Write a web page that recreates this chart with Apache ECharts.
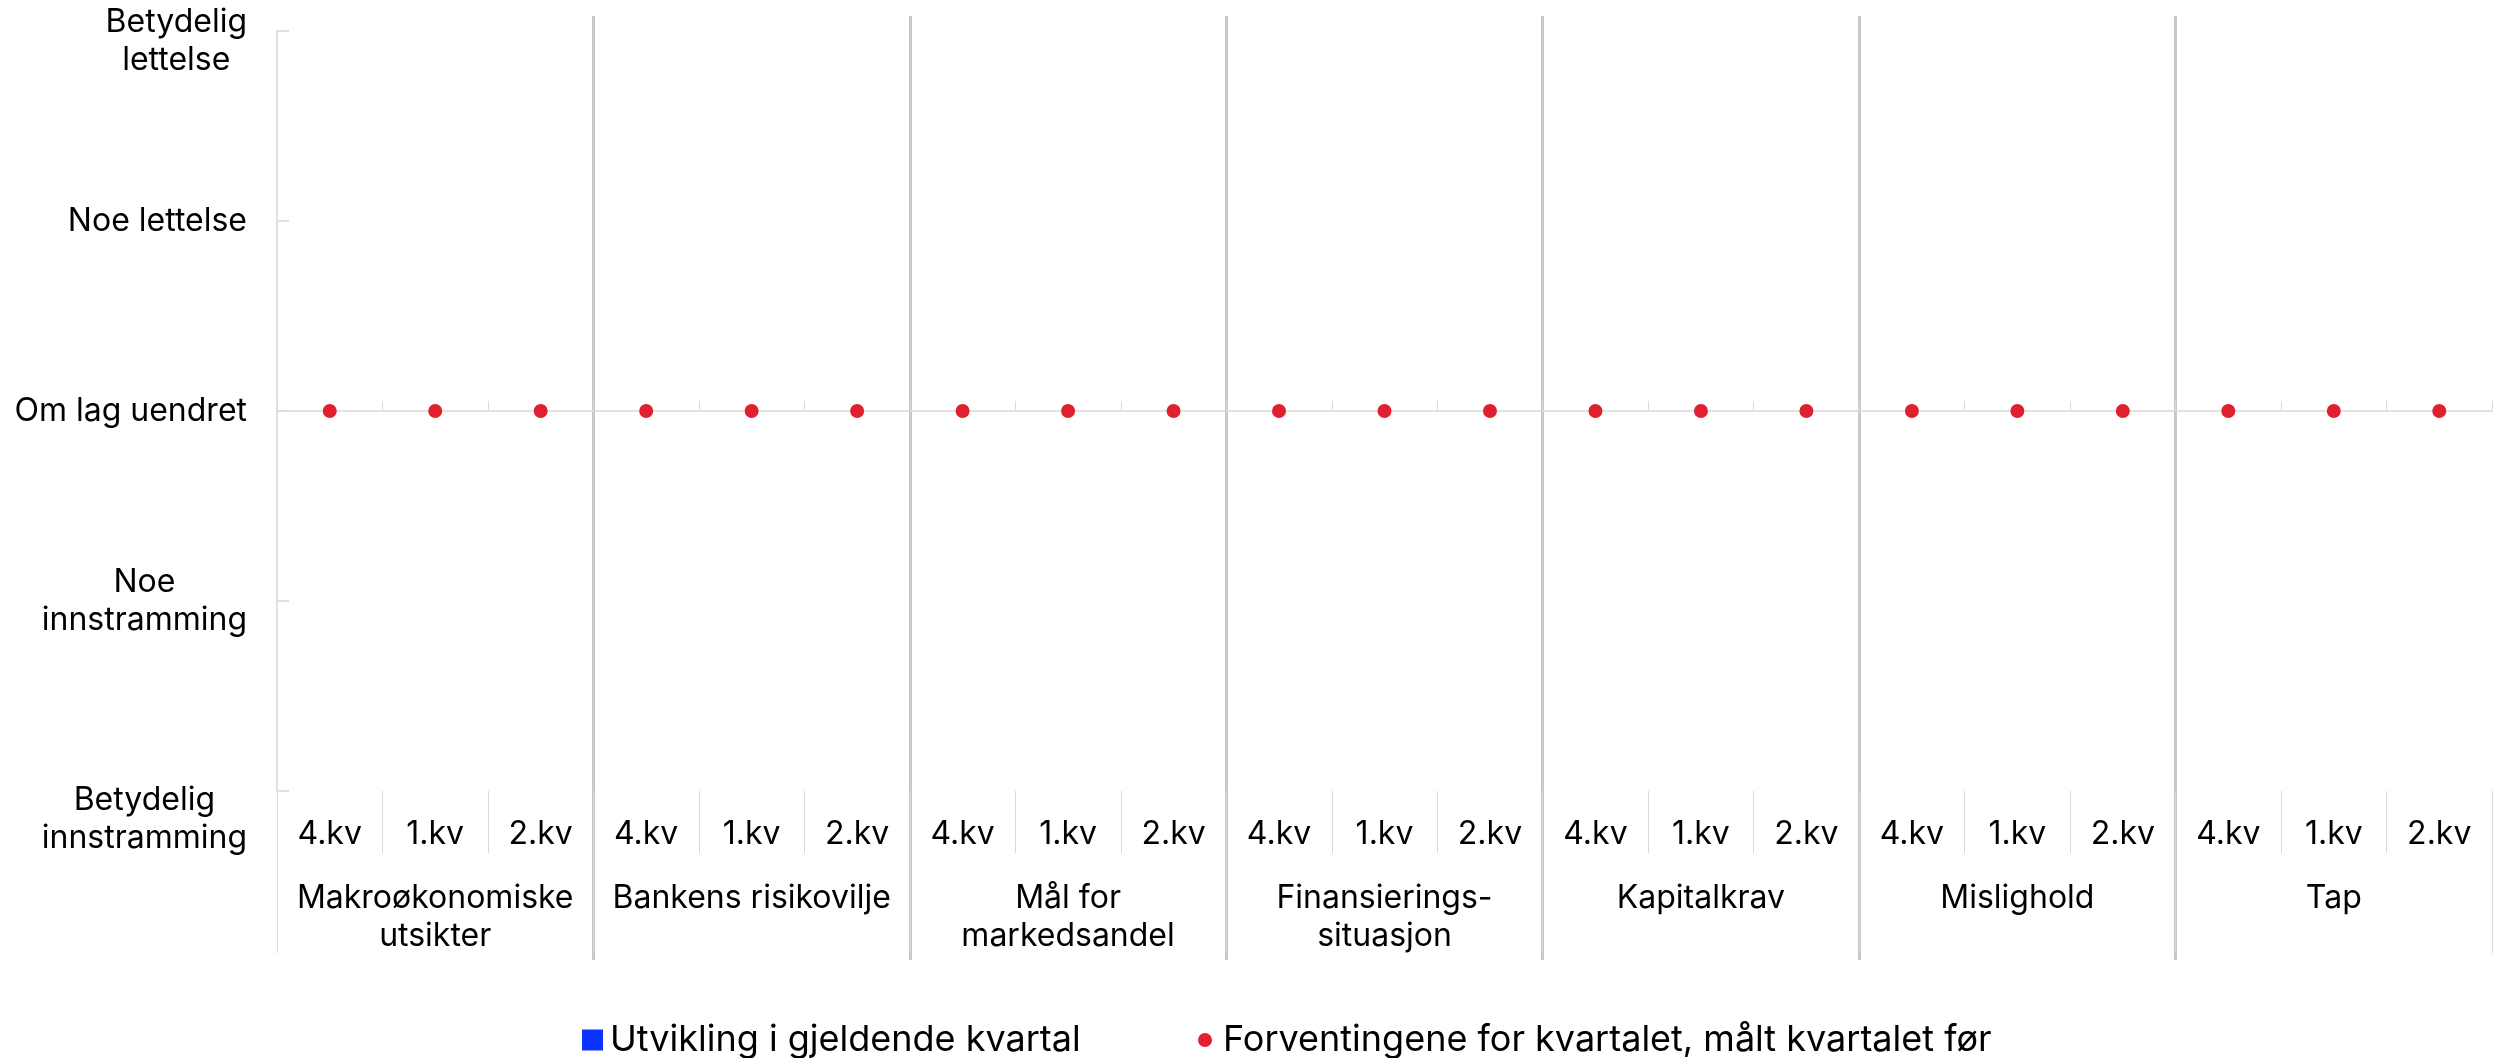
<!DOCTYPE html>
<html>
<head>
<meta charset="utf-8">
<script src="https://cdn.jsdelivr.net/npm/echarts@6.0.0/dist/echarts.min.js"></script>
<style>
  html, body { margin: 0; padding: 0; background: #fff; }
  #chart { width: 2504px; height: 1058px; }
</style>
</head>
<body>
<div id="chart"></div>
<script>
// kategorier
var groups = ['Makroøkonomiske\nutsikter', 'Bankens risikovilje', 'Mål for\nmarkedsandel', 'Finansierings-\nsituasjon', 'Kapitalkrav', 'Mislighold', 'Tap'];
var quarters = ['4.kv', '1.kv', '2.kv'];
// y-akse: verdi -> tekst
var yTicks = [-2, -1, 0, 1, 2];
var yLabels = ['Betydelig\ninnstramming', 'Noe\ninnstramming', 'Om lag uendret', 'Noe lettelse', 'Betydelig\nlettelse'];
// serier
var utvikling = [0, 0, 0, 0, 0, 0, 0, 0, 0, 0, 0, 0, 0, 0, 0, 0, 0, 0, 0, 0, 0];
var forventninger = [0, 0, 0, 0, 0, 0, 0, 0, 0, 0, 0, 0, 0, 0, 0, 0, 0, 0, 0, 0, 0];

var names = ['Utvikling i gjeldende kvartal', 'Forventingene for kvartalet, målt kvartalet før'];

var categories = [];
groups.forEach(function (g) {
  quarters.forEach(function (q) { categories.push(q); });
});

var FONT = 'Inter';
var GRID_LINE = '#d9d9d9';

var option = {
  animation: false,
  backgroundColor: '#fff',
  textStyle: { fontFamily: FONT, color: '#000' },
  grid: [
    { left: 277, right: 12, top: 31, bottom: 267, outerBoundsMode: 'none' },
    // bare for skillelinjene mellom gruppene
    { left: 277, right: 12, top: 16, bottom: 98, outerBoundsMode: 'none' }
  ],
  legend: [
    {
      data: [names[0]], icon: 'rect', itemWidth: 21, itemHeight: 21,
      left: 577, top: 1017,
      textStyle: { fontFamily: FONT, fontSize: 36, lineHeight: 36, color: '#000', padding: [0, 0, 0, 2] }
    },
    {
      data: [names[1]], icon: 'circle', itemWidth: 14, itemHeight: 14,
      left: 1193, top: 1017,
      textStyle: { fontFamily: FONT, fontSize: 36, lineHeight: 36, color: '#000', padding: [0, 0, 0, 6] }
    }
  ],
  xAxis: [
    {
      // nullinja med små streker opp
      type: 'category', gridIndex: 0, data: categories, position: 'bottom',
      axisLine: { show: true, onZero: true, lineStyle: { color: GRID_LINE, width: 1.5 } },
      axisTick: { show: true, inside: true, length: 10, lineStyle: { color: GRID_LINE, width: 1 } },
      axisLabel: { show: false },
      splitLine: { show: false }
    },
    {
      type: 'category', gridIndex: 0, data: categories, position: 'bottom',
      axisLine: { show: false, onZero: false },
      axisTick: { show: true, length: 62, lineStyle: { color: GRID_LINE, width: 1 } },
      axisLabel: {
        interval: 0, margin: 24, fontFamily: FONT, fontSize: 32, lineHeight: 38, color: '#000'
      },
      splitLine: { show: false }
    },
    {
      type: 'category', gridIndex: 0, data: groups, position: 'bottom',
      axisLine: { show: false, onZero: false },
      axisTick: { show: true, length: 162, lineStyle: { color: GRID_LINE, width: 1 } },
      axisLabel: {
        interval: 0, margin: 88, fontFamily: FONT, fontSize: 32, lineHeight: 38, color: '#000', verticalAlign: 'top'
      },
      splitLine: { show: false }
    },
    {
      type: 'category', gridIndex: 1, data: groups, position: 'bottom',
      axisLine: { show: false, onZero: false },
      axisTick: { show: false },
      axisLabel: { show: false },
      splitLine: { show: true, showMinLine: false, showMaxLine: false, lineStyle: { color: '#c8c8c8', width: 3 } }
    }
  ],
  yAxis: [
    {
      type: 'value', gridIndex: 0, min: -2, max: 2, interval: 1,
      axisLine: { show: true, lineStyle: { color: GRID_LINE, width: 1.5 } },
      axisTick: { show: true, inside: true, length: 12, lineStyle: { color: GRID_LINE, width: 1.5 } },
      splitLine: { show: false },
      axisLabel: {
        margin: 30, align: 'right', fontFamily: FONT, fontSize: 32, color: '#000',
        formatter: function (v) {
          var i = yTicks.indexOf(v);
          if (i < 0) return '';
          var lines = yLabels[i].split('\n').map(function (l) { return '{c|' + l + '}'; });
          // topp og bunn er skjøvet litt ned, som i originalen
          if (v === 2) lines.unshift('{sp1| }');
          if (v === -2) lines.unshift('{sp2| }');
          return lines.join('\n');
        },
        rich: {
          c: { align: 'center', fontFamily: FONT, fontSize: 32, lineHeight: 38, color: '#000' },
          sp1: { fontSize: 10, lineHeight: 20 },
          sp2: { fontSize: 10, lineHeight: 56 }
        }
      }
    },
    { type: 'value', gridIndex: 1, show: false, min: 0, max: 1 }
  ],
  series: [
    {
      name: names[0], type: 'bar', xAxisIndex: 1, yAxisIndex: 0,
      data: utvikling, barWidth: '55%',
      itemStyle: { color: '#0a33ff' }
    },
    {
      name: names[1], type: 'scatter', xAxisIndex: 1, yAxisIndex: 0,
      data: forventninger, symbol: 'circle', symbolSize: 14, z: 5,
      itemStyle: { color: '#e0202e', opacity: 1 }
    }
  ]
};

var myChart = echarts.init(document.getElementById('chart'));
myChart.setOption(option);
window.addEventListener('resize', function () {
  myChart.resize();
});
</script>
</body>
</html>
